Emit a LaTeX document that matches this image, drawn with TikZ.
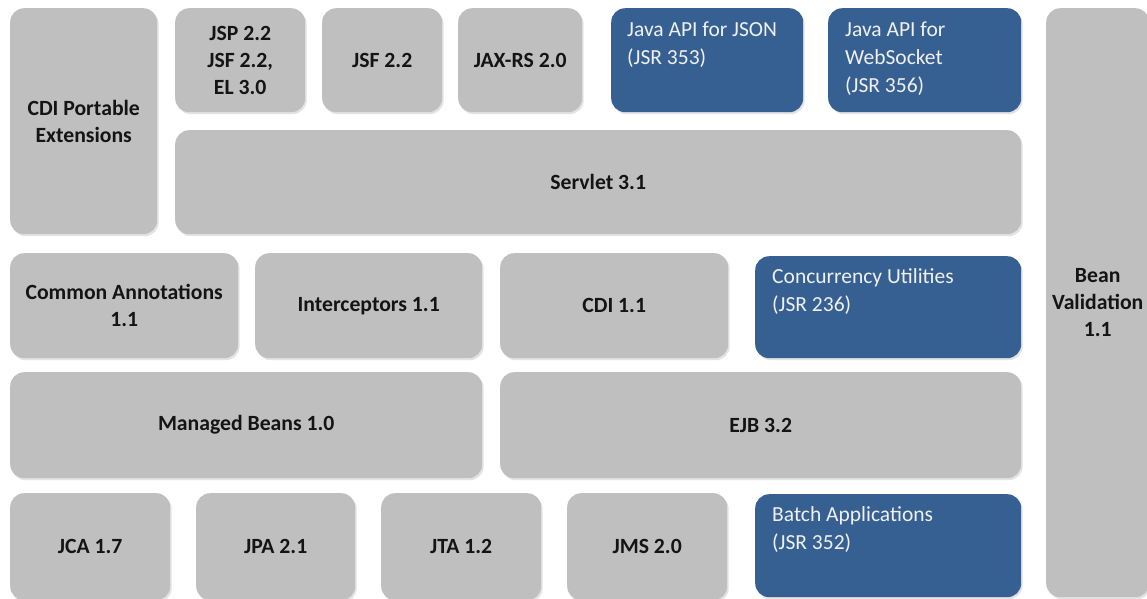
\documentclass[tikz,border=0pt]{standalone}
\usepackage{fontspec}
\setmainfont{Carlito}
\usetikzlibrary{shadows}
\definecolor{boxgray}{HTML}{BFBFBF}
\definecolor{boxblue}{HTML}{366092}
\definecolor{lighttext}{HTML}{F0F0F0}
\begin{document}
\begin{tikzpicture}[x=1pt,y=-1pt,
 base/.style={anchor=north west, rounded corners=14pt, inner sep=0pt,
   drop shadow={opacity=0.22,shadow xshift=1.5pt,shadow yshift=-2pt}},
 gbox/.style={base, fill=boxgray, font=\fontsize{21.7}{27}\selectfont\bfseries, text=black!92, align=center},
 bbox/.style={base, fill=boxblue},
 btext/.style={anchor=north west, inner sep=0pt, align=left, text=lighttext,
   font=\fontsize{21.5}{28}\selectfont}]
\useasboundingbox (0,0) rectangle (1147,598);
\fill[white] (0,0) rectangle (1147,598);
% row 1
\node[gbox, minimum width=147pt, minimum height=226pt] (cdipe) at (10,8) {CDI Portable\\Extensions};
\node[gbox, minimum width=130pt, minimum height=104pt] (jsp) at (175,8) {JSP 2.2\\JSF 2.2,\\EL 3.0};
\node[gbox, minimum width=120pt, minimum height=104pt] (jsf) at (322,8) {JSF 2.2};
\node[gbox, minimum width=124pt, minimum height=104pt] (jaxrs) at (458,8) {JAX-RS 2.0};
\node[bbox, minimum width=192pt, minimum height=104pt] (json) at (611,8) {};
\node[btext] (jsontxt) at (627,22) {Java API for JSON\\(JSR 353)};
\node[bbox, minimum width=193pt, minimum height=104pt] (ws) at (828,8) {};
\node[btext] (wstxt) at (845,22) {Java API for\\WebSocket\\(JSR 356)};
\node[gbox, minimum width=103pt, minimum height=589pt] (bv) at (1046,8) {Bean\\Validation\\1.1};
\node[gbox, minimum width=846pt, minimum height=104pt] (servlet) at (175,130) {Servlet 3.1};
% row 2
\node[gbox, minimum width=228pt, minimum height=105pt] (common) at (10,253) {Common Annotations\\1.1};
\node[gbox, minimum width=227pt, minimum height=105pt] (inter) at (255,253) {Interceptors 1.1};
\node[gbox, minimum width=228pt, minimum height=105pt] (cdi) at (500,253) {CDI 1.1};
\node[bbox, minimum width=266pt, minimum height=102pt] (conc) at (755,256) {};
\node[btext] (conctxt) at (772,268) {Concurrency Utilities\\(JSR 236)};
% row 3
\node[gbox, minimum width=472pt, minimum height=106pt] (mb) at (10,372) {Managed Beans 1.0};
\node[gbox, minimum width=521pt, minimum height=106pt] (ejb) at (500,372) {EJB 3.2};
% row 4
\node[gbox, minimum width=160pt, minimum height=107pt] (jca) at (10,493) {JCA 1.7};
\node[gbox, minimum width=159pt, minimum height=107pt] (jpa) at (196,493) {JPA 2.1};
\node[gbox, minimum width=160pt, minimum height=107pt] (jta) at (381,493) {JTA 1.2};
\node[gbox, minimum width=160pt, minimum height=107pt] (jms) at (567,493) {JMS 2.0};
\node[bbox, minimum width=266pt, minimum height=103pt] (batch) at (755,494) {};
\node[btext] (batchtxt) at (772,506) {Batch Applications\\(JSR 352)};
\end{tikzpicture}
\end{document}
